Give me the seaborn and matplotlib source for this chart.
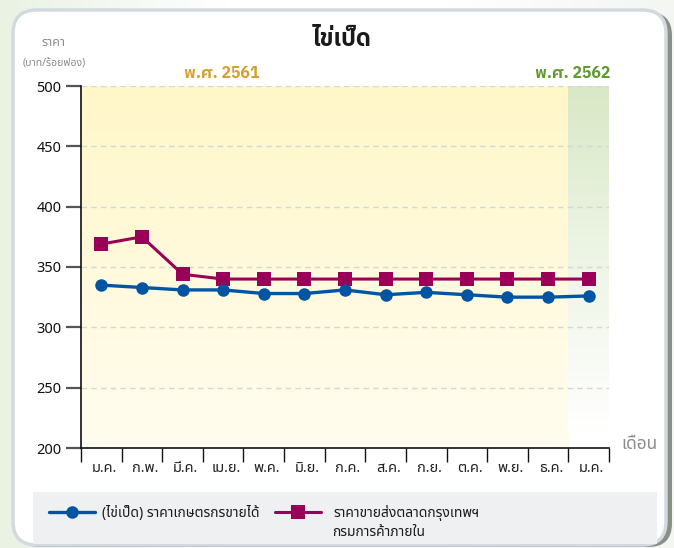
import matplotlib
matplotlib.use("Agg")
import numpy as np
import pandas as pd
import matplotlib.pyplot as plt
import seaborn as sns
from matplotlib.patches import FancyBboxPatch, Rectangle
from matplotlib.lines import Line2D
from matplotlib.transforms import ScaledTranslation

# ---- data ----
months = ["ม.ค.", "ก.พ.", "มี.ค.", "เม.ย.", "พ.ค.", "มิ.ย.", "ก.ค.",
          "ส.ค.", "ก.ย.", "ต.ค.", "พ.ย.", "ธ.ค.", "ม.ค."]
farm_price = [335, 333, 331, 331, 328, 328, 331, 327, 329, 327, 325, 325, 326]
wholesale_price = [369, 375, 344, 340, 340, 340, 340, 340, 340, 340, 340, 340, 340]
y_ticks = [200, 250, 300, 350, 400, 450, 500]
series_names = ["(ไข่เป็ด) ราคาเกษตรกรขายได้", "ราคาขายส่งตลาดกรุงเทพฯ", "กรมการค้าภายใน"]

sns.set_theme(style="white")
FONT = ["Noto Sans Thai", "Noto Sans", "DejaVu Sans"]
BOLD = ["IBM Plex Sans Thai", "Noto Sans Thai", "DejaVu Sans"]
plt.rcParams["font.family"] = FONT

BLUE = "#0054A4"
PINK = "#990057"

W, H = 674, 548
fig = plt.figure(figsize=(W / 100, H / 100), dpi=100)
fig.patch.set_facecolor("white")

def fx(px):
    return px / W

def fy(py):
    return 1 - py / H

# outer faint background tint
bg = fig.add_axes([0, 0, 1, 1], zorder=-10)
grad = np.linspace(0, 1, 200)[None, :]
bg.imshow(grad, extent=[0, 1, 0, 1], aspect="auto", cmap=matplotlib.colors.LinearSegmentedColormap.from_list(
    "g", ["#EAF2E4", "#FFFFFF", "#FFFFFF", "#F4F6F2"]), transform=bg.transAxes)
bg.set_axis_off()

# card shadow and card
shadow = FancyBboxPatch((fx(16), fy(547)), fx(656), fy(12) - fy(547),
                        boxstyle="round,pad=0,rounding_size=0.035",
                        transform=fig.transFigure, facecolor="#8A9088", edgecolor="none",
                        zorder=-5, mutation_aspect=W / H)
fig.patches.append(shadow)
card = FancyBboxPatch((fx(13), fy(545)), fx(653), fy(10) - fy(545),
                      boxstyle="round,pad=0,rounding_size=0.035",
                      transform=fig.transFigure, facecolor="white", edgecolor="#D3DADF",
                      linewidth=2.5, zorder=-4, mutation_aspect=W / H)
fig.patches.append(card)

# legend background box
leg_bg = Rectangle((fx(33), fy(544)), fx(657) - fx(33), fy(492) - fy(544),
                   transform=fig.transFigure, facecolor="#EEF0F2", edgecolor="none", zorder=-3)
fig.patches.append(leg_bg)

# ---- main axes ----
ax = fig.add_axes([fx(81), fy(448), fx(609) - fx(81), fy(86) - fy(448)])
ax.set_facecolor("none")

ycol = np.linspace(0, 1, 256)[:, None]
yellow = matplotlib.colors.LinearSegmentedColormap.from_list("y", ["#FFFDF0", "#FFF7C8"])
green = matplotlib.colors.LinearSegmentedColormap.from_list("gr", ["#FFFFFF", "#EEF5E6", "#D9E8C6"])
ax.imshow(ycol, extent=[-0.5, 11.5, 200, 500], origin="lower", aspect="auto", cmap=yellow, zorder=0)
ax.imshow(ycol, extent=[11.5, 12.5, 212, 500], origin="lower", aspect="auto", cmap=green, zorder=0)

for v in y_ticks[1:]:
    ax.axhline(v, color="#D6D6D6", lw=1.0, ls=(0, (4, 3)), zorder=1)

df = pd.DataFrame({"pos": np.arange(len(months)), "farm": farm_price, "wholesale": wholesale_price})
sns.lineplot(data=df, x="pos", y="wholesale", ax=ax, color=PINK, lw=2.2, marker="s",
             markersize=10, markeredgewidth=0, zorder=3)
sns.lineplot(data=df, x="pos", y="farm", ax=ax, color=BLUE, lw=2.4, marker="o",
             markersize=9, markeredgewidth=0, zorder=4)
ax.set_xlabel("")
ax.set_ylabel("")
ax.set_xlim(-0.5, 12.5)
ax.set_ylim(200, 500)

for s in ["top", "right"]:
    ax.spines[s].set_visible(False)
for s in ["left", "bottom"]:
    ax.spines[s].set_color("#111111")
    ax.spines[s].set_linewidth(1.2)

ax.set_yticks(y_ticks)
ax.set_yticklabels([str(v) for v in y_ticks])
ax.tick_params(axis="y", direction="out", length=11, width=1.6, color="#555555",
               labelsize=10.5, labelcolor="#111111", pad=3, left=True)

ax.set_xticks(np.arange(-0.5, 13.0, 1.0))
ax.set_xticklabels([])
ax.set_xticks(np.arange(len(months)), minor=True)
ax.set_xticklabels(months, minor=True)
ax.tick_params(axis="x", which="major", direction="out", length=10, width=1.0, color="#111111", bottom=True)
ax.tick_params(axis="x", which="minor", length=0, labelsize=10.5, labelcolor="#222222", pad=9)
off = ScaledTranslation(3 / 100, 0, fig.dpi_scale_trans)
for lbl in ax.get_xticklabels(minor=True):
    lbl.set_transform(lbl.get_transform() + off)

# ---- texts ----
fig.text(fx(342), fy(40), "ไข่เป็ด", ha="center", va="center", fontsize=17,
         fontweight="bold", color="#1A1A1A", family=BOLD)
fig.text(fx(53), fy(42), "ราคา", ha="center", va="center", fontsize=9, color="#8A8A8A")
fig.text(fx(54), fy(64), "(บาท/ร้อยฟอง)", ha="center", va="center", fontsize=7.5, color="#8A8A8A")
fig.text(fx(222), fy(73), "พ.ศ. 2561", ha="center", va="center", fontsize=11.5,
         fontweight="bold", color="#D4A030", family=BOLD)
fig.text(fx(610), fy(73), "พ.ศ. 2562", ha="right", va="center", fontsize=11.5,
         fontweight="bold", color="#5E9A2E", family=BOLD)
fig.text(fx(621), fy(444), "เดือน", ha="left", va="center", fontsize=12.5, color="#8C8C8C")

# ---- legend ----
h1 = Line2D([], [], color=BLUE, lw=2.4, marker="o", markersize=9, markeredgewidth=0)
h2 = Line2D([], [], color=PINK, lw=2.2, marker="s", markersize=10, markeredgewidth=0)
fig.legend([h1], [series_names[0]], loc="center left", bbox_to_anchor=(fx(49), fy(513)),
           frameon=False, fontsize=10, handlelength=3.3, handletextpad=0.55,
           labelcolor="#1A1A1A", borderaxespad=0, borderpad=0)
fig.legend([h2], [series_names[1]], loc="center left", bbox_to_anchor=(fx(275), fy(513)),
           frameon=False, fontsize=10, handlelength=3.3, handletextpad=0.9,
           labelcolor="#1A1A1A", borderaxespad=0, borderpad=0)
fig.text(fx(332), fy(533), series_names[2], ha="left", va="center", fontsize=10, color="#1A1A1A")

fig.savefig("out.png", dpi=100)
